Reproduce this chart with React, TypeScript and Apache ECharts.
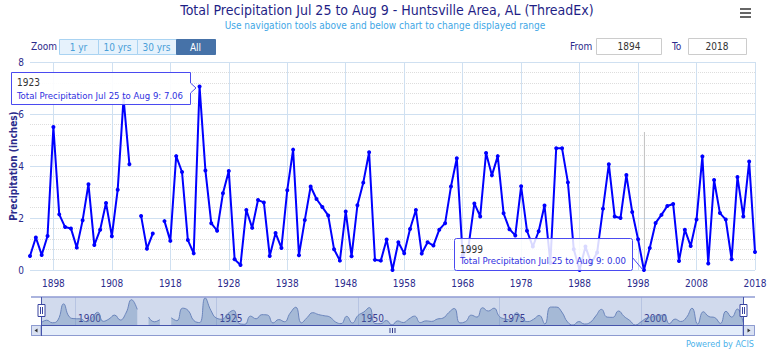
import React, { useEffect, useRef } from 'react';
import * as echarts from 'echarts';

const START_YEAR = 1894;
const END_YEAR = 2018;
const years: string[] = [];
for (let y = START_YEAR; y <= END_YEAR; y++) years.push(String(y));

// Total precipitation Jul 25 - Aug 9 (inches), by decade
const precip1890s = [0.54, 1.25, 0.58, 1.31, 5.5, 2.14]; // 1894-1899
const precip1900s = [1.65, 1.6, 0.86, 1.91, 3.3, 0.96, 1.55, 2.58, 1.3, 3.09];
const precip1910s = [6.6, 4.07, null, 2.08, 0.82, 1.4, null, 1.88, 1.12, 4.38];
const precip1920s = [3.77, 1.15, 0.64, 7.06, 3.83, 1.8, 1.51, 2.95, 3.81, 0.41];
const precip1930s = [0.19, 2.31, 1.62, 2.69, 2.6, 0.54, 1.42, 0.85, 3.07, 4.63];
const precip1940s = [0.57, 1.92, 3.21, 2.73, 2.42, 2.1, 0.8, 0.36, 2.25, 0.53];
const precip1950s = [2.49, 3.36, 4.53, 0.39, 0.36, 1.17, 0.0, 1.07, 0.64, 1.58];
const precip1960s = [2.31, 0.63, 1.07, 0.94, 1.55, 1.8, 3.21, 4.3, 0.55, 0.9];
const precip1970s = [2.56, 2.06, 4.5, 3.64, 4.38, 2.18, 1.57, 1.33, 3.22, 1.51];
const precip1980s = [0.9, 1.49, 2.48, 0.28, 4.68, 4.68, 3.37, 0.8, 0.0, 0.9];
const precip1990s = [0.26, 0.67, 2.36, 4.07, 2.06, 2.0, 3.65, 2.23, 1.18, 0.0];
const precip2000s = [0.85, 1.81, 2.12, 2.46, 2.54, 0.35, 1.55, 0.92, 1.94, 4.37];
const precip2010s = [0.25, 3.46, 2.19, 1.94, 0.41, 3.58, 2.06, 4.17, 0.69];

const precip: (number | null)[] = [
  ...precip1890s, ...precip1900s, ...precip1910s, ...precip1920s, ...precip1930s,
  ...precip1940s, ...precip1950s, ...precip1960s, ...precip1970s, ...precip1980s,
  ...precip1990s, ...precip2000s, ...precip2010s,
];

const yTicks = [0, 2, 4, 6, 8];
const zoomButtons = ['1 yr', '10 yrs', '30 yrs', 'All'];
const tooltipYears = ['1923', '1999'];

const TITLE = 'Total Precipitation Jul 25 to Aug 9 - Huntsville Area, AL (ThreadEx)';
const SUBTITLE = 'Use navigation tools above and below chart to change displayed range';
const SERIES_NAME = 'Total Precipitation Jul 25 to Aug 9';

const FONT = '"DejaVu Sans Condensed", "Liberation Sans", sans-serif';
const NAVY = '#2b2b8c';

function txt(text: string, x: number, y: number, size: number, fill: string, align = 'left', weight = 'normal', z = 50) {
  return {
    type: 'text', x, y, z,
    style: { text, fill, font: `${weight} ${size}px ${FONT}`, textAlign: align, textVerticalAlign: 'middle', verticalAlign: 'middle' },
  };
}

export default function App() {
  const ref = useRef<HTMLDivElement>(null);
  useEffect(() => {
    if (!ref.current) return;
    const chart = echarts.init(ref.current, null, { renderer: 'svg' });
    const isMainTick = (i: number) => (Number(years[i]) - 1898) % 10 === 0;
    const isNavTick = (i: number) => (Number(years[i]) - 1900) % 25 === 0;

    const g: any[] = [];
    // title & subtitle
    g.push(txt(TITLE, 387, 10, 14, '#1f1f86', 'center'));
    g.push(txt(SUBTITLE, 385, 25, 10, '#3fa7e6', 'center'));
    // hamburger menu
    [9, 13, 17].forEach((y) => g.push({ type: 'rect', shape: { x: 740, y: y - 1, width: 11, height: 2 }, style: { fill: '#666' }, z: 50 }));
    // zoom buttons
    g.push(txt('Zoom', 31, 46.5, 10, NAVY));
    const bx = [59, 98, 137, 176, 215];
    zoomButtons.forEach((b, i) => {
      const sel = b === 'All';
      g.push({ type: 'rect', shape: { x: bx[i] + 0.5, y: 39.5, width: bx[i + 1] - bx[i], height: 15 },
        style: { fill: sel ? '#4672a8' : '#e6f2fc', stroke: sel ? '#4672a8' : '#a9d3f2', lineWidth: 1 }, z: 50 });
      g.push(txt(b, (bx[i] + bx[i + 1]) / 2, 47, 10, sel ? '#ffffff' : '#4a9fd8', 'center'));
    });
    // From / To
    g.push(txt('From', 570, 46, 10, NAVY));
    g.push({ type: 'rect', shape: { x: 596.5, y: 38.5, width: 65, height: 16 }, style: { fill: '#fff', stroke: '#cccccc', lineWidth: 1 }, z: 50 });
    g.push(txt(String(START_YEAR), 629, 46.5, 10, '#333', 'center'));
    g.push(txt('To', 672, 46, 10, NAVY));
    g.push({ type: 'rect', shape: { x: 688.5, y: 38.5, width: 58, height: 16 }, style: { fill: '#fff', stroke: '#cccccc', lineWidth: 1 }, z: 50 });
    g.push(txt(String(END_YEAR), 717, 46.5, 10, '#333', 'center'));

    // navigator outline / handles
    g.push({ type: 'line', shape: { x1: 31, y1: 297, x2: 755, y2: 297 }, style: { stroke: '#8f9bd3', lineWidth: 1.5 }, z: 40 });
    g.push({ type: 'line', shape: { x1: 41, y1: 325.5, x2: 743, y2: 325.5 }, style: { stroke: '#4654ab', lineWidth: 1 }, z: 40 });
    // scrollbar
    g.push({ type: 'rect', shape: { x: 31.5, y: 325.5, width: 723, height: 10 }, style: { fill: '#e4edfa', stroke: '#8d9bd0', lineWidth: 1 }, z: 39 });
    g.push({ type: 'rect', shape: { x: 31.5, y: 325.5, width: 9.5, height: 10 }, style: { fill: '#d9e1f2', stroke: '#8d9bd0', lineWidth: 1 }, z: 41 });
    g.push({ type: 'rect', shape: { x: 743, y: 325.5, width: 11.5, height: 10 }, style: { fill: '#d9e1f2', stroke: '#8d9bd0', lineWidth: 1 }, z: 41 });
    g.push({ type: 'polygon', shape: { points: [[37.5, 328.5], [37.5, 332.5], [34.5, 330.5]] }, style: { fill: '#333' }, z: 42 });
    g.push({ type: 'polygon', shape: { points: [[747.5, 328.5], [747.5, 332.5], [750.5, 330.5]] }, style: { fill: '#333' }, z: 42 });
    [390, 392.5, 395].forEach((x) => g.push({ type: 'line', shape: { x1: x, y1: 328, x2: x, y2: 333 }, style: { stroke: '#333a8a', lineWidth: 1 }, z: 42 }));
    [41, 743].forEach((x) => {
      g.push({ type: 'line', shape: { x1: x + 0.5, y1: 297, x2: x + 0.5, y2: 336 }, style: { stroke: '#4654ab', lineWidth: 1 }, z: 41 });
      g.push({ type: 'rect', shape: { x: x - 3, y: 304.5, width: 7, height: 12 }, style: { fill: '#ffffff', stroke: '#3a45a0', lineWidth: 1 }, z: 43 });
      g.push({ type: 'line', shape: { x1: x - 0.5, y1: 307, x2: x - 0.5, y2: 314 }, style: { stroke: '#3a45a0', lineWidth: 1 }, z: 44 });
      g.push({ type: 'line', shape: { x1: x + 1.5, y1: 307, x2: x + 1.5, y2: 314 }, style: { stroke: '#3a45a0', lineWidth: 1 }, z: 44 });
    });
    g.push(txt('Powered by ACIS', 754, 343.5, 9, '#4cb2ea', 'right'));

    // tooltips
    const i1 = years.indexOf(tooltipYears[0]);
    const i2 = years.indexOf(tooltipYears[1]);
    g.push({ type: 'polygon', shape: { points: [[11.5, 72.5], [190.5, 72.5], [190.5, 83], [196, 88], [190.5, 93], [190.5, 104.5], [11.5, 104.5]] },
      style: { fill: 'rgba(255,255,255,0.9)', stroke: '#4a4af0', lineWidth: 1 }, z: 90 });
    g.push(txt(tooltipYears[0], 17, 82.5, 10, '#333', 'left', 'normal', 91));
    g.push(txt(`${SERIES_NAME}: ${(precip[i1] as number).toFixed(2)}`, 17, 95, 9.5, '#2f2fe0', 'left', 'normal', 91));

    g.push({ type: 'line', shape: { x1: 632, y1: 257, x2: 643, y2: 270 }, style: { stroke: '#4a4af0', lineWidth: 1 }, z: 89 });
    g.push({ type: 'rect', shape: { x: 454.5, y: 238.5, width: 178, height: 32, r: 2 },
      style: { fill: 'rgba(255,255,255,0.85)', stroke: '#4a4af0', lineWidth: 1 }, z: 90 });
    g.push(txt(tooltipYears[1], 460, 249.5, 10, '#333', 'left', 'normal', 91));
    g.push(txt(`${SERIES_NAME}: ${(precip[i2] as number).toFixed(2)}`, 460, 260.5, 9.5, '#2f2fe0', 'left', 'normal', 91));

    const option: any = {
      animation: false,
      backgroundColor: '#ffffff',
      grid: [
        { left: 30, right: 15, top: 62, height: 208, containLabel: false, outerBoundsMode: 'none' },
        { left: 41, width: 702, top: 297, height: 28, show: true, backgroundColor: 'rgba(102,133,194,0.3)', borderWidth: 0, outerBoundsMode: 'none' },
      ],
      xAxis: [
        {
          type: 'category', data: years, boundaryGap: false, gridIndex: 0,
          axisLine: { show: false }, axisTick: { show: false },
          axisLabel: { interval: (i: number) => isMainTick(i), color: NAVY, fontSize: 10, fontFamily: FONT, margin: 8 },
          splitLine: { show: true, interval: (i: number) => isMainTick(i), lineStyle: { color: '#cfe0f1', width: 1 } },
        },
        {
          type: 'category', data: years, boundaryGap: false, gridIndex: 1,
          axisLine: { show: false }, axisTick: { show: false },
          axisLabel: { interval: (i: number) => isNavTick(i), inside: true, align: 'left', padding: [0, 0, 0, 3], margin: 2, color: '#3a3a90', fontSize: 10, fontFamily: FONT },
          splitLine: { show: true, interval: (i: number) => isNavTick(i), lineStyle: { color: '#b7c4e2', width: 1 } },
        },
      ],
      yAxis: [
        {
          type: 'value', gridIndex: 0, min: yTicks[0], max: yTicks[yTicks.length - 1], interval: 2,
          name: 'Precipitation (inches)', nameLocation: 'middle', nameRotate: 90, nameGap: 12, nameMoveOverlap: false,
          nameTextStyle: { color: NAVY, fontSize: 10, fontWeight: 'bold', fontFamily: FONT },
          axisLine: { show: false }, axisTick: { show: false },
          axisLabel: { color: NAVY, fontSize: 10, fontFamily: FONT, margin: 6 },
          splitLine: { show: true, lineStyle: { color: '#cfe0f1', width: 1 } },
          minorTick: { show: false, splitNumber: 5 },
          minorSplitLine: { show: true, lineStyle: { color: '#dddddd', type: 'dotted', width: 1 } },
        },
        { type: 'value', gridIndex: 1, min: 0, max: 7.3, show: false, splitLine: { show: false } },
      ],
      series: [
        {
          name: SERIES_NAME, type: 'line', xAxisIndex: 0, yAxisIndex: 0, data: precip,
          connectNulls: false, symbol: 'circle', symbolSize: 4, showSymbol: true, showAllSymbol: true,
          itemStyle: { color: '#0000ff' }, lineStyle: { color: '#0000ff', width: 2 }, z: 5,
        },
        {
          type: 'line', xAxisIndex: 1, yAxisIndex: 1, data: precip, smooth: true, showSymbol: false,
          connectNulls: false, lineStyle: { color: '#6a84bb', width: 1 },
          areaStyle: { color: 'rgba(69,114,167,0.45)' }, silent: true,
        },
      ],
      graphic: { elements: g },
    };
    chart.setOption(option);
    const px = chart.convertToPixel({ xAxisIndex: 0 }, tooltipYears[1]) as number;
    chart.setOption({
      graphic: { elements: [...g, { type: 'line', shape: { x1: px + 0.5, y1: 132, x2: px + 0.5, y2: 270 }, style: { stroke: '#c0c0c0', lineWidth: 1 }, z: 3 }] },
    });
    return () => chart.dispose();
  }, []);
  return <div ref={ref} style={{ position: 'fixed', left: 0, top: 0, width: 770, height: 354 }} />;
}
